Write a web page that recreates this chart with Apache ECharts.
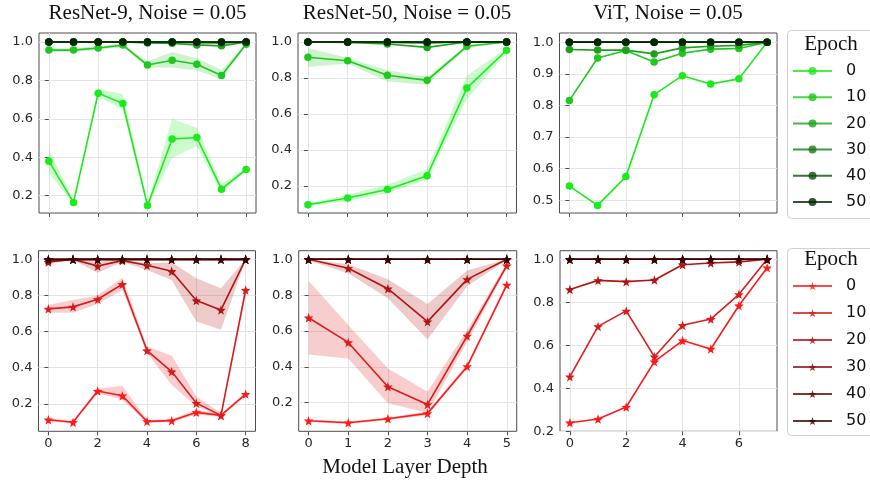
<!DOCTYPE html>
<html>
<head>
<meta charset="utf-8">
<script src="https://cdn.jsdelivr.net/npm/echarts@6/dist/echarts.min.js"></script>
<style>
  html, body { margin: 0; padding: 0; background: #fff; }
  #chart { width: 870px; height: 486px; }
</style>
</head>
<body>
<div id="chart"></div>
<script>
// Layer indices per architecture
const depthR9 = [0, 1, 2, 3, 4, 5, 6, 7, 8];
const depthR50 = [0, 1, 2, 3, 4, 5];
const depthViT = [0, 1, 2, 3, 4, 5, 6, 7];
const epochLabels = ['0', '10', '20', '30', '40', '50'];

// Tick labels
const ticksR9 = [0, 2, 4, 6, 8];
const ticksR50 = [0, 1, 2, 3, 4, 5];
const ticksViT = [0, 2, 4, 6];
const yTicksFull = [0.2, 0.4, 0.6, 0.8, 1.0];
const yTicksViTTop = [0.5, 0.6, 0.7, 0.8, 0.9, 1.0];

// ResNet-9, top row (circles)
const r9TopE0 = [0.38, 0.165, 0.734, 0.68, 0.149, 0.495, 0.503, 0.234, 0.337];
const r9TopE0Lo = [0.318, 0.155, 0.717, 0.647, 0.139, 0.396, 0.457, 0.217, 0.327];
const r9TopE0Hi = [0.444, 0.175, 0.755, 0.73, 0.159, 0.60, 0.552, 0.26, 0.347];
const r9TopE10 = [0.958, 0.958, 0.969, 0.984, 0.88, 0.905, 0.884, 0.826, 0.988];
const r9TopE10Lo = [0.948, 0.948, 0.959, 0.976, 0.868, 0.868, 0.852, 0.806, 0.98];
const r9TopE10Hi = [0.968, 0.968, 0.979, 0.992, 0.90, 0.948, 0.915, 0.854, 0.996];
const r9TopE20 = [1, 1, 1, 1, 0.995, 0.993, 0.985, 0.98, 1];
const r9TopE30 = [1, 1, 1, 1, 1, 1, 0.997, 0.995, 1];
const r9TopE40 = [1, 1, 1, 1, 1, 1, 1, 1, 1];
const r9TopE50 = [1, 1, 1, 1, 1, 1, 1, 1, 1];

// ResNet-50, top row
const r50TopE0 = [0.096, 0.133, 0.181, 0.257, 0.744, 0.954];
const r50TopE0Lo = [0.088, 0.115, 0.161, 0.235, 0.68, 0.94];
const r50TopE0Hi = [0.104, 0.152, 0.207, 0.294, 0.813, 0.967];
const r50TopE10 = [0.915, 0.896, 0.815, 0.787, 0.976, 1.0];
const r50TopE10Lo = [0.861, 0.88, 0.781, 0.763, 0.967, 0.998];
const r50TopE10Hi = [0.967, 0.911, 0.843, 0.806, 0.985, 1.0];
const r50TopE20 = [1, 0.998, 0.989, 0.97, 1, 1];
const r50TopE30 = [1, 1, 0.998, 0.995, 1, 1];
const r50TopE40 = [1, 1, 1, 1, 1, 1];
const r50TopE50 = [1, 1, 1, 1, 1, 1];

// ViT, top row
const vitTopE0 = [0.545, 0.484, 0.575, 0.834, 0.894, 0.868, 0.884, 1.0];
const vitTopE10 = [0.816, 0.95, 0.974, 0.937, 0.965, 0.978, 0.98, 1.0];
const vitTopE20 = [0.977, 0.975, 0.975, 0.963, 0.982, 0.987, 0.99, 1.0];
const vitTopE30 = [1, 1, 1, 1, 1, 1, 1, 1];
const vitTopE40 = [1, 1, 1, 1, 1, 1, 1, 1];
const vitTopE50 = [1, 1, 1, 1, 1, 1, 1, 1];

// ResNet-9, bottom row (stars)
const r9BotE0 = [0.112, 0.098, 0.271, 0.245, 0.103, 0.107, 0.153, 0.136, 0.254];
const r9BotE0Lo = [0.104, 0.09, 0.26, 0.223, 0.095, 0.099, 0.14, 0.128, 0.245];
const r9BotE0Hi = [0.12, 0.106, 0.284, 0.30, 0.111, 0.115, 0.168, 0.144, 0.263];
const r9BotE10 = [0.726, 0.737, 0.779, 0.862, 0.495, 0.379, 0.204, 0.136, 0.83];
const r9BotE10Lo = [0.705, 0.705, 0.753, 0.83, 0.48, 0.306, 0.186, 0.131, 0.80];
const r9BotE10Hi = [0.748, 0.775, 0.80, 0.90, 0.517, 0.466, 0.241, 0.149, 0.858];
const r9BotE20 = [0.985, 1.0, 0.963, 0.993, 0.967, 0.934, 0.772, 0.72, 1.0];
const r9BotE20Lo = [0.975, 0.998, 0.926, 0.985, 0.941, 0.886, 0.656, 0.61, 0.998];
const r9BotE20Hi = [0.993, 1.0, 0.987, 1.0, 0.978, 0.982, 0.895, 0.84, 1.0];
const r9BotE30 = [0.995, 1, 1, 1, 1, 1, 1, 1, 1];
const r9BotE40 = [1, 1, 1, 1, 1, 1, 1, 1, 1];
const r9BotE50 = [1, 1, 1, 1, 1, 1, 1, 1, 1];

// ResNet-50, bottom row
const r50BotE0 = [0.099, 0.088, 0.11, 0.14, 0.402, 0.857];
const r50BotE0Lo = [0.092, 0.081, 0.103, 0.13, 0.39, 0.845];
const r50BotE0Hi = [0.106, 0.095, 0.117, 0.15, 0.414, 0.869];
const r50BotE10 = [0.674, 0.536, 0.289, 0.19, 0.572, 0.965];
const r50BotE10Lo = [0.469, 0.447, 0.196, 0.143, 0.54, 0.95];
const r50BotE10Hi = [0.879, 0.633, 0.391, 0.261, 0.605, 0.978];
const r50BotE20 = [1.0, 0.95, 0.836, 0.652, 0.888, 1.0];
const r50BotE20Lo = [0.993, 0.922, 0.782, 0.553, 0.851, 0.995];
const r50BotE20Hi = [1.0, 0.972, 0.888, 0.75, 0.937, 1.0];
const r50BotE30 = [1, 1, 1, 1, 1, 1];
const r50BotE40 = [1, 1, 1, 1, 1, 1];
const r50BotE50 = [1, 1, 1, 1, 1, 1];

// ViT, bottom row
const vitBotE0 = [0.24, 0.257, 0.313, 0.524, 0.622, 0.583, 0.785, 0.961];
const vitBotE10 = [0.454, 0.688, 0.76, 0.547, 0.693, 0.722, 0.837, 1.0];
const vitBotE20 = [0.86, 0.902, 0.896, 0.904, 0.975, 0.983, 0.988, 1.0];
const vitBotE30 = [1, 1, 1, 1, 1, 1, 1, 1];
const vitBotE40 = [1, 1, 1, 1, 1, 1, 1, 1];
const vitBotE50 = [1, 1, 1, 1, 1, 1, 1, 1];

// Palettes, light (epoch 0) to dark (epoch 50)
const greens = ['#1aeb1a', '#1fc81f', '#1ea21e', '#197c19', '#0e4f0e', '#042604'];
const reds = ['#ff1a1a', '#da1c1c', '#b01414', '#8c0f0f', '#5c0808', '#360303'];

const STAR = 'path://M0,-10L2.35,-3.24L9.51,-3.09L3.8,2.1L5.88,8.09L0,4.6L-5.88,8.09L-3.8,2.1L-9.51,-3.09L-2.35,-3.24Z';

const panels = [
  { x: depthR9, xr: [-0.4, 8.4], yr: [0.11, 1.047], xt: ticksR9, yt: yTicksFull, xl: false,
    rect: [39, 33, 217, 180], kind: 'g',
    lines: [r9TopE0, r9TopE10, r9TopE20, r9TopE30, r9TopE40, r9TopE50],
    bands: [[0, r9TopE0Lo, r9TopE0Hi], [1, r9TopE10Lo, r9TopE10Hi]] },
  { x: depthR50, xr: [-0.25, 5.25], yr: [0.05, 1.05], xt: ticksR50, yt: yTicksFull, xl: false,
    rect: [298, 33, 218.5, 180], kind: 'g',
    lines: [r50TopE0, r50TopE10, r50TopE20, r50TopE30, r50TopE40, r50TopE50],
    bands: [[0, r50TopE0Lo, r50TopE0Hi], [1, r50TopE10Lo, r50TopE10Hi]] },
  { x: depthViT, xr: [-0.35, 7.35], yr: [0.46, 1.029], xt: ticksViT, yt: yTicksViTTop, xl: false,
    rect: [559.5, 33, 217.5, 180], kind: 'g',
    lines: [vitTopE0, vitTopE10, vitTopE20, vitTopE30, vitTopE40, vitTopE50],
    bands: [] },
  { x: depthR9, xr: [-0.4, 8.4], yr: [0.048, 1.048], xt: ticksR9, yt: yTicksFull, xl: true,
    rect: [38.5, 250.7, 217, 180.6], kind: 'r',
    lines: [r9BotE0, r9BotE10, r9BotE20, r9BotE30, r9BotE40, r9BotE50],
    bands: [[0, r9BotE0Lo, r9BotE0Hi], [1, r9BotE10Lo, r9BotE10Hi], [2, r9BotE20Lo, r9BotE20Hi]] },
  { x: depthR50, xr: [-0.25, 5.25], yr: [0.04, 1.048], xt: ticksR50, yt: yTicksFull, xl: true,
    rect: [298.7, 250.7, 218, 180.6], kind: 'r',
    lines: [r50BotE0, r50BotE10, r50BotE20, r50BotE30, r50BotE40, r50BotE50],
    bands: [[0, r50BotE0Lo, r50BotE0Hi], [1, r50BotE10Lo, r50BotE10Hi], [2, r50BotE20Lo, r50BotE20Hi]] },
  { x: depthViT, xr: [-0.35, 7.35], yr: [0.2, 1.04], xt: ticksViT, yt: yTicksFull, xl: true,
    rect: [560, 250.7, 217, 180.6], kind: 'r',
    lines: [vitBotE0, vitBotE10, vitBotE20, vitBotE30, vitBotE40, vitBotE50],
    bands: [] }
];

const tickFont = { fontSize: 13, color: '#262626', fontFamily: 'DejaVu Sans' };
const grids = [], xAxes = [], yAxes = [], series = [];

panels.forEach((p, i) => {
  grids.push({ left: p.rect[0], top: p.rect[1], width: p.rect[2], height: p.rect[3],
    show: true, borderColor: '#4d4d4d', borderWidth: 1, backgroundColor: 'transparent' });
  xAxes.push({ type: 'value', gridIndex: i, min: p.xr[0], max: p.xr[1],
    axisLine: { show: false },
    axisTick: { show: true, length: 4, customValues: p.xt, lineStyle: { color: '#4d4d4d' } },
    axisLabel: Object.assign({ show: p.xl, customValues: p.xt, margin: 6, formatter: v => String(Math.round(v)) }, tickFont),
    splitLine: { show: true, lineStyle: { color: '#e4e4e4', width: 1 } } });
  yAxes.push({ type: 'value', gridIndex: i, min: p.yr[0], max: p.yr[1],
    axisLine: { show: false },
    axisTick: { show: true, length: 4, customValues: p.yt, lineStyle: { color: '#4d4d4d' } },
    axisLabel: Object.assign({ customValues: p.yt, margin: 6, formatter: v => v.toFixed(1) }, tickFont),
    splitLine: { show: true, lineStyle: { color: '#e4e4e4', width: 1 } } });

  const pal = p.kind === 'g' ? greens : reds;

  // shaded spread around the mean
  p.bands.forEach(([e, lo, hi]) => {
    series.push({
      type: 'custom', xAxisIndex: i, yAxisIndex: i, silent: true, z: 1,
      data: [[p.x[0], lo[0]]],
      renderItem: (params, api) => {
        const pts = [];
        for (let k = 0; k < p.x.length; k++) pts.push(api.coord([p.x[k], hi[k]]));
        for (let k = p.x.length - 1; k >= 0; k--) pts.push(api.coord([p.x[k], lo[k]]));
        return { type: 'polygon', shape: { points: pts }, style: { fill: pal[e], opacity: 0.22 } };
      }
    });
  });

  p.lines.forEach((vals, e) => {
    series.push({
      type: 'line', name: p.kind + epochLabels[e], xAxisIndex: i, yAxisIndex: i, z: 2,
      data: p.x.map((xv, k) => [xv, vals[k]]),
      symbol: p.kind === 'g' ? 'circle' : STAR,
      symbolSize: p.kind === 'g' ? 7.5 : 9.5,
      showSymbol: true,
      lineStyle: { color: pal[e], width: 1.6 },
      itemStyle: { color: pal[e] },
      emphasis: { disabled: true }
    });
  });
});

const legendBase = {
  orient: 'vertical', left: 787, itemWidth: 39, itemHeight: 10,
  selectedMode: false, formatter: n => n.slice(1),
  itemStyle: { opacity: 0.8 }, lineStyle: { opacity: 0.8, width: 2 },
  textStyle: { fontSize: 16, lineHeight: 16, color: '#111', fontFamily: 'DejaVu Sans', padding: [0, 0, 0, 9] }
};

const serif = '"Liberation Serif", "DejaVu Serif", serif';
const txt = (text, x, y, size) => ({ type: 'text', x: x, y: y, z: 10,
  style: { text: text, textAlign: 'center', textVerticalAlign: 'middle', fontSize: size, fontFamily: serif, fill: '#111' } });

const option = {
  animation: false,
  backgroundColor: '#fff',
  grid: grids, xAxis: xAxes, yAxis: yAxes, series: series,
  legend: [
    Object.assign({}, legendBase, { top: 58, itemGap: 10.2, data: epochLabels.map(l => 'g' + l) }),
    Object.assign({}, legendBase, { top: 273, itemGap: 11.0, data: epochLabels.map(l => 'r' + l) })
  ],
  graphic: [
    { type: 'rect', shape: { x: 787.5, y: 30.5, width: 100, height: 188, r: 4 }, z: -1,
      style: { fill: '#fff', stroke: '#d0d0d0', lineWidth: 1 } },
    { type: 'rect', shape: { x: 787.5, y: 248.5, width: 100, height: 187, r: 4 }, z: -1,
      style: { fill: '#fff', stroke: '#d0d0d0', lineWidth: 1 } },
    txt('ResNet-9, Noise = 0.05', 147.5, 13.5, 21),
    txt('ResNet-50, Noise = 0.05', 407, 13.5, 21),
    txt('ViT, Noise = 0.05', 668, 13.5, 21),
    txt('Epoch', 831, 44, 21),
    txt('Epoch', 831, 259, 21),
    txt('Model Layer Depth', 405, 467, 21)
  ]
};

echarts.init(document.getElementById('chart')).setOption(option);
</script>
</body>
</html>
